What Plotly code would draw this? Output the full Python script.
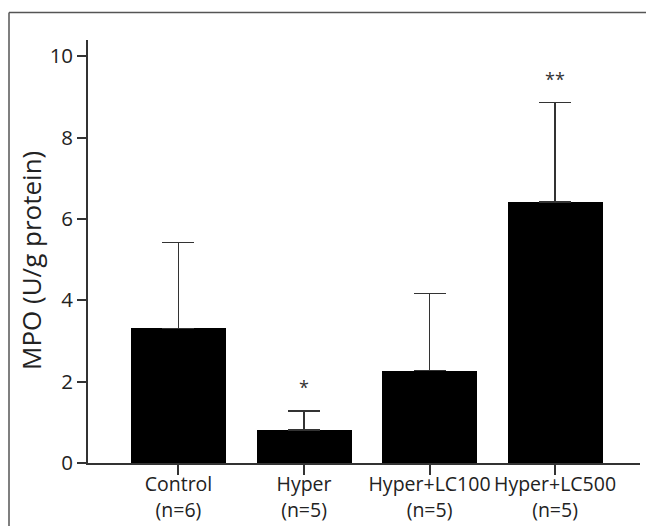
import plotly.graph_objects as go

categories = ["Control<br>(n=6)", "Hyper<br>(n=5)", "Hyper+LC100<br>(n=5)", "Hyper+LC500<br>(n=5)"]
means = [3.31, 0.81, 2.27, 6.41]
sems = [2.11, 0.47, 1.90, 2.45]
signif = ["", "*", "", "**"]
y_ticks = [0, 2, 4, 6, 8, 10]
y_title = "MPO (U/g protein)"

FONT = "Open Sans"
AX = "#333333"
TXT = "#222222"

fig = go.Figure()
fig.add_trace(go.Bar(
    x=list(range(len(categories))),
    y=means,
    width=0.757,
    marker=dict(color="black", line=dict(color="black", width=0)),
    error_y=dict(type="data", array=sems, arrayminus=[0]*len(sems), symmetric=False,
                 color=AX, thickness=1.6, width=16),
    showlegend=False,
))

for i, (m, s, t) in enumerate(zip(means, sems, signif)):
    if t:
        fig.add_annotation(x=i, y=m + s, text=t, showarrow=False, yanchor="bottom",
                           yshift=10, font=dict(family=FONT, size=18, color="#333"))

L, R, T, B = 88, 640, 40, 463
def px_x(p):
    return (p - L) / (R - L)
def px_y(p):
    return (B - p) / (B - T)

# y-axis title
fig.add_annotation(xref="paper", yref="paper", x=px_x(31), y=px_y(261),
                   xanchor="center", yanchor="middle", text=y_title, textangle=-90,
                   showarrow=False, font=dict(family=FONT, size=26, color=TXT))

# outer frame (only top and left edges are visible in the reference)
frame = dict(color="#555555", width=1.5)
fig.add_shape(type="line", xref="paper", yref="paper",
              x0=px_x(9), x1=px_x(646), y0=px_y(12.5), y1=px_y(12.5), line=frame, layer="below")
fig.add_shape(type="line", xref="paper", yref="paper",
              x0=px_x(9), x1=px_x(9), y0=px_y(12.5), y1=px_y(526), line=frame, layer="below")

fig.update_layout(
    width=646, height=526,
    margin=dict(l=L, r=646 - R, t=T, b=526 - B, pad=0, autoexpand=False),
    paper_bgcolor="white", plot_bgcolor="white",
    font=dict(family=FONT, size=19.5, color=TXT),
    bargap=0,
)
fig.update_xaxes(
    range=[-0.721, 3.677], automargin=False, tickangle=0,
    tickmode="array", tickvals=list(range(len(categories))), ticktext=categories,
    showline=True, linecolor=AX, linewidth=1.6,
    ticks="outside", ticklen=10, tickwidth=1.6, tickcolor=AX,
    ticklabelstandoff=-7,
    showgrid=False, zeroline=False,
    tickfont=dict(family=FONT, size=19.5, color=TXT),
)
fig.update_yaxes(
    range=[0, 10.4], automargin=False,
    tickmode="array", tickvals=y_ticks,
    showline=True, linecolor=AX, linewidth=1.6,
    ticks="outside", ticklen=9, tickwidth=1.6, tickcolor=AX,
    showgrid=False, zeroline=False,
    tickfont=dict(family=FONT, size=20.5, color=TXT),
)

fig.write_html("out.html", config={"displayModeBar": False},
               post_script="document.documentElement.style.overflow='hidden';"
                           "document.body.style.margin='0';document.body.style.overflow='hidden';")
